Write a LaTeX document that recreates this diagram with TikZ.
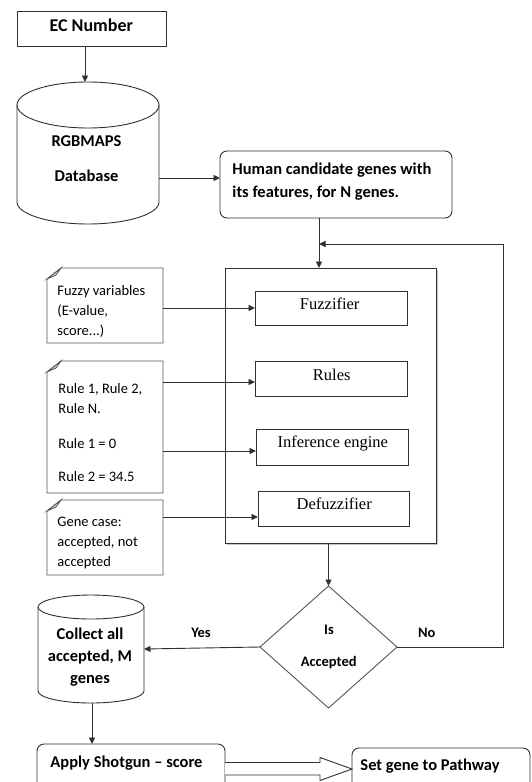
\documentclass[tikz,border=0pt]{standalone}
\usepackage{fontspec}
\setmainfont{Carlito}
\newfontfamily\timesfont{Liberation Serif}
\usetikzlibrary{arrows.meta,shadows}
\definecolor{linecol}{HTML}{303030}
\definecolor{notecol}{HTML}{555555}
\newcommand{\drawnote}[1]{%
  \draw[notedraw] ([yshift=-11pt]#1.north west) -- ([xshift=14pt]#1.north west) -- (#1.north east) -- (#1.south east) -- (#1.south west) -- cycle;
  \filldraw[notedraw, fill=gray!35] ([yshift=-11pt]#1.north west) -- ([xshift=14pt]#1.north west) -- ([xshift=9pt,yshift=-7pt]#1.north west) -- cycle;}
\begin{document}
\begin{tikzpicture}[x=1pt,y=-1pt,
  line width=0.9pt, draw=linecol,
  arr/.style={draw=linecol, -{Triangle[length=6.5pt,width=6pt]}},
  anchorbox/.style={rectangle, inner sep=0pt, outer sep=0pt},
  plainbox/.style={anchorbox, draw=linecol},
  roundbox/.style={anchorbox, draw=linecol, rounded corners=7pt},
  innerbox/.style={plainbox, fill=white, drop shadow={shadow xshift=1.3pt, shadow yshift=-1.3pt, opacity=0.6}},
  notedraw/.style={draw=notecol, line width=0.8pt},
  boldtxt/.style={font=\fontsize{16.5}{20}\selectfont\bfseries, inner sep=0pt},
  smallbold/.style={font=\fontsize{14.5}{18}\selectfont\bfseries, inner sep=0pt, anchor=base},
  notetxt/.style={font=\fontsize{14.5}{18}\selectfont, inner sep=0pt, anchor=base west},
  sertxt/.style={font=\timesfont\fontsize{16.5}{20}\selectfont, inner sep=0pt, anchor=base}
]
\clip (0,0) rectangle (532,782);
\fill[white] (0,0) rectangle (532,782);

% EC Number
\node[plainbox, minimum width=149pt, minimum height=35pt] (ec) at (91.5,28.5) {};
\node[boldtxt, font=\fontsize{18}{20}\selectfont\bfseries, anchor=base] (ectext) at (91.3,31.5) {EC Number};

% Database cylinder
\node[anchorbox, minimum width=142pt, minimum height=142pt] (db) at (88,153) {};
\draw (88,105) ellipse [x radius=71, y radius=23];
\draw (17,105) -- (17,202) arc[start angle=180, end angle=0, x radius=71, y radius=22] -- (159,105);
\node[boldtxt, anchor=base] (dbt1) at (86.5,146.5) {RGBMAPS};
\node[boldtxt, anchor=base] (dbt2) at (86.5,181) {Database};

% Human box
\node[roundbox, minimum width=232pt, minimum height=67pt] (human) at (336,184.5) {};
\node[boldtxt, anchor=base west] (ht1) at (232,174) {Human candidate genes with};
\node[boldtxt, anchor=base west] (ht2) at (232,197) {its features, for N genes.};

\draw[arr] (ec.south -| 85,0) -- (db.north -| 85,0);
\draw[arr] (db.east |- 0,178) -- (human.west |- 0,178);

% Engine
\node[plainbox, fill=white, minimum width=211pt, minimum height=275pt, drop shadow={shadow xshift=2.2pt, shadow yshift=-2.2pt, opacity=0.45}] (engine) at (330.5,405.5) {};
\node[innerbox, minimum width=152pt, minimum height=34pt] (fuzz) at (331,308) {};
\node[innerbox, minimum width=152pt, minimum height=35pt] (rules) at (331,378.5) {};
\node[innerbox, minimum width=152pt, minimum height=36pt] (infer) at (332,447) {};
\node[innerbox, minimum width=151pt, minimum height=35pt] (defuzz) at (333.5,508.5) {};
\node[sertxt] (fuzzt) at (329.7,309) {Fuzzifier};
\node[sertxt] (rulest) at (331.7,380) {Rules};
\node[sertxt] (infert) at (332.8,447.6) {Inference engine};
\node[sertxt] (defuzzt) at (334.2,509) {Defuzzifier};

% Notes
\node[anchorbox, minimum width=116pt, minimum height=75pt] (fuzzynote) at (105,305.5) {};
\node[anchorbox, minimum width=116pt, minimum height=132pt] (rulesnote) at (105,427) {};
\node[anchorbox, minimum width=116pt, minimum height=75pt] (genenote) at (105,537.5) {};
\drawnote{fuzzynote}
\drawnote{rulesnote}
\drawnote{genenote}
\node[notetxt] (f1) at (57,295) {Fuzzy variables};
\node[notetxt] (f2) at (57,315) {(E-value,};
\node[notetxt] (f3) at (57,335) {score...)};
\node[notetxt] (r1) at (58,393.6) {Rule 1, Rule 2,};
\node[notetxt] (r2) at (58,413.6) {Rule N.};
\node[notetxt] (r3) at (58,448.3) {Rule 1 = 0};
\node[notetxt] (r4) at (58,481) {Rule 2 = 34.5};
\node[notetxt] (g1) at (57,526) {Gene case:};
\node[notetxt] (g2) at (57,546) {accepted, not};
\node[notetxt] (g3) at (57,566) {accepted};

\draw[arr] (fuzzynote.east |- fuzz.west) -- (fuzz.west);
\draw[arr] (rulesnote.east |- 0,382) -- (rules.west |- 0,382);
\draw[arr] (rulesnote.east |- 0,451) -- (infer.west |- 0,451);
\draw[arr] (genenote.east |- 0,517) -- (defuzz.west |- 0,517);

% Loop
\coordinate (join) at (319,244);
\coordinate (fbtop) at (503,244);
\draw[arr] (human.south -| join) -- (engine.north -| join);

% Decision
\node[anchorbox, minimum width=137pt, minimum height=122pt] (dec) at (328.5,647) {};
\draw[draw=notecol] (dec.north) -- (dec.east) -- (dec.south) -- (dec.west) -- cycle;
\node[smallbold] (is) at (329,634) {Is};
\node[smallbold] (acc) at (328.7,666) {Accepted};
\draw[arr] (engine.south -| dec.north) -- (dec.north);
\draw[arr] (dec.east) -| (fbtop) -- (join);
\node[smallbold] (no) at (426.7,637.5) {No};
\node[smallbold] (yes) at (201,637.5) {Yes};

% Collect cylinder
\node[anchorbox, minimum width=106pt, minimum height=108pt] (collect) at (91,649) {};
\draw (91,607) ellipse [x radius=53, y radius=12];
\draw (38,607) -- (38,691) arc[start angle=180, end angle=0, x radius=53, y radius=12] -- (144,607);
\node[boldtxt, anchor=base] (c1) at (90,639) {Collect all};
\node[boldtxt, anchor=base] (c2) at (90,661) {accepted, M};
\node[boldtxt, anchor=base] (c3) at (90,683) {genes};
\draw[arr] (dec.west) -- (collect.east);

% Bottom boxes
\node[roundbox, minimum width=188pt, minimum height=66pt] (apply) at (131,777) {};
\node[roundbox, minimum width=178pt, minimum height=62pt] (set) at (441,779) {};
\node[boldtxt, anchor=base west] (applyt) at (50,767) {Apply Shotgun – score};
\node[boldtxt, anchor=base west] (sett) at (360,770.5) {Set gene to Pathway};
\draw[arr] (collect.south -| 92,0) -- (apply.north -| 92,0);
\draw[fill=white] (apply.east |- 0,762.5) -- (320,762.5) -- (320,757.5) -- (set.west |- 0,769) -- (320,780.5) -- (320,775) -- (apply.east |- 0,775);
\end{tikzpicture}
\end{document}
